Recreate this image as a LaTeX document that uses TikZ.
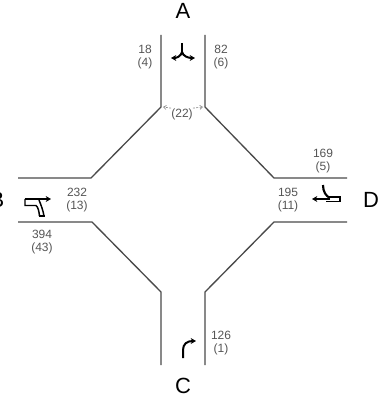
\documentclass[tikz,border=0pt]{standalone}
\usepackage{fontspec}
\setmainfont{Liberation Sans}
\usetikzlibrary{arrows.meta}
\definecolor{roadgray}{HTML}{4A4A4A}
\definecolor{labelgray}{HTML}{555555}
\tikzset{
  road/.style={roadgray, line width=1pt},
  move/.style={black, line width=1.5pt, -{Stealth[length=4pt,width=4.5pt]}},
  moveline/.style={black, line width=1.1pt},
  movethick/.style={black, line width=1.6pt},
  uturn/.style={labelgray!70, line width=0.5pt, dash pattern=on 1.5pt off 1pt, -{Straight Barb[length=2pt,width=3pt]}},
  leg/.style={font=\fontsize{16.5}{16.5}\selectfont, text=black, inner sep=0pt},
  count/.style={font=\fontsize{9}{9.2}\selectfont, text=labelgray, align=center, inner sep=0pt}
}
\begin{document}
\begin{tikzpicture}[x=0.7508pt, y=-0.7508pt]
        \useasboundingbox (0,0) rectangle (379,396);

        % Road edges
        \draw[road] (161,35) -- (161,107) -- (91,178) -- (18,178);
        \draw[road] (205,35) -- (205,107) -- (274,178) -- (347,178);
        \draw[road] (18,222) -- (92,222) -- (161,292) -- (161,365);
        \draw[road] (347,222) -- (274,222) -- (205,292) -- (205,365);

        % Leg names
        \node[leg] (legA) at (183,11) {A};
        \node[leg] (legB) at (-3,200) {B};
        \node[leg] (legC) at (183,385.5) {C};
        \node[leg] (legD) at (371,200) {D};

        % Counts
        \node[count] (countAl) at (145,57) {18\\(4)};
        \node[count] (countAr) at (221,57) {82\\(6)};
        \node[count] (countAm) at (182,114) {(22)};
        \node[count] (countBr) at (77,200) {232\\(13)};
        \node[count] (countBb) at (42,242) {394\\(43)};
        \node[count] (countDt) at (323,161) {169\\(5)};
        \node[count] (countDb) at (288,200) {195\\(11)};
        \node[count] (countC) at (221,343) {126\\(1)};

        % Corner marks beside the middle count
        \coordinate (cornerL) at (163,107);
        \coordinate (cornerR) at (203,107);
        \draw[uturn] (countAm.north west) -- (cornerL);
        \draw[uturn] (countAm.north east) -- (cornerR);

        % A: left and right
        \draw[movethick] (182,43) -- (182,53);
        \draw[move] (182,52) .. controls (181,56) and (177,58) .. (171,58);
        \draw[move] (182,52) .. controls (183,56) and (188,58) .. (195,58);

        % C: right turn
        \draw[move] (183,358) -- (183,350) .. controls (183,344) and (187,341) .. (196,341);

        % B: through with left turn
        \draw[moveline] (25,199) -- (25,205.5) -- (36,205.5) .. controls (38,207) and (39,211) .. (39.5,216);
        \draw[move] (24.5,199) -- (51,199);
        \draw[moveline] (39,200) .. controls (41,205) and (43,210) .. (44,216);
        \draw[moveline] (38.5,216) -- (45,216);

        % D: through with right turn
        \draw[movethick] (323,185) .. controls (323,192) and (326,196) .. (330,198);
        \draw[moveline] (328,197) -- (340,197) -- (340,201.5) -- (326,201.5);
        \draw[move] (330,199) -- (312,199);
    \end{tikzpicture}
\end{document}
